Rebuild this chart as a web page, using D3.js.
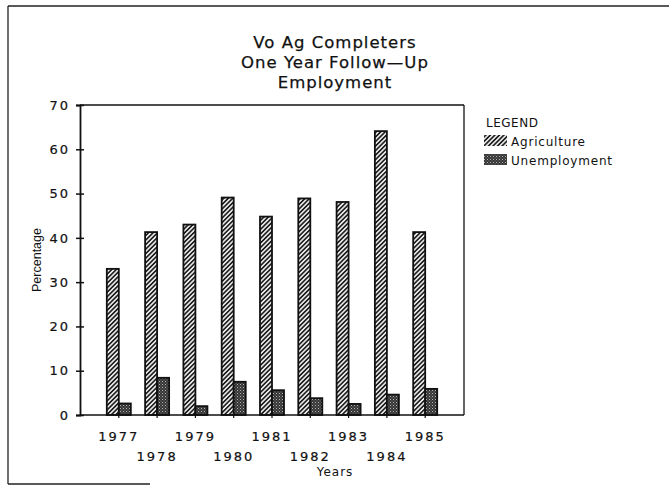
<!DOCTYPE html>
<html>
<head>
<meta charset="utf-8">
<script src="https://cdn.jsdelivr.net/npm/d3@7"></script>
<style>
  html, body { margin: 0; padding: 0; background: #fff; }
  svg { display: block; }
  text { fill: #111; }
</style>
</head>
<body>
<div id="chart"></div>
<script>
const titleLines = ["Vo Ag Completers", "One Year Follow\u2014Up", "Employment"];
const years = ["1977","1978","1979","1980","1981","1982","1983","1984","1985"];
const seriesNames = ["Agriculture", "Unemployment"];
const legendLabels = ["Agriculture", "Unemployment"];
const agriculture = [33, 41.3, 43, 49.1, 44.8, 48.9, 48.1, 64.1, 41.3];
const unemployment = [2.6, 8.4, 2.0, 7.5, 5.6, 3.8, 2.5, 4.6, 5.9];
const yTicks = [0, 10, 20, 30, 40, 50, 60, 70];
const yLabel = "Percentage";
const xLabel = "Years";
const legendTitle = "LEGEND";

const W = 669, H = 485;
const plot = { left: 80, right: 464, top: 105, bottom: 415 };

const svg = d3.select("#chart").append("svg").attr("width", W).attr("height", H);

// patterns
const defs = svg.append("defs");
const hatch = defs.append("pattern").attr("id", "hatch").attr("patternUnits", "userSpaceOnUse")
  .attr("width", 3.2).attr("height", 3.2).attr("patternTransform", "rotate(45)");
hatch.append("rect").attr("width", 3.2).attr("height", 3.2).attr("fill", "#e8e8e8");
hatch.append("rect").attr("width", 1.6).attr("height", 3.2).attr("fill", "#1e1e1e");

const stip = defs.append("pattern").attr("id", "stipple").attr("patternUnits", "userSpaceOnUse")
  .attr("width", 3).attr("height", 3);
stip.append("rect").attr("width", 3).attr("height", 3).attr("fill", "#353535");
stip.append("rect").attr("x", 0).attr("y", 0).attr("width", 1).attr("height", 1).attr("fill", "#b5b5b5");
stip.append("rect").attr("x", 1.5).attr("y", 1.5).attr("width", 1).attr("height", 1).attr("fill", "#808080");

const fills = { "Agriculture": "url(#hatch)", "Unemployment": "url(#stipple)" };

// outer frame (partial, as scanned)
svg.append("line").attr("x1", 8).attr("y1", 6).attr("x2", W).attr("y2", 6).attr("stroke", "#222").attr("stroke-width", 1.3);
svg.append("line").attr("x1", 8).attr("y1", 6).attr("x2", 8).attr("y2", 484).attr("stroke", "#222").attr("stroke-width", 1.3);
svg.append("line").attr("x1", 8).attr("y1", 484).attr("x2", 150).attr("y2", 484).attr("stroke", "#222").attr("stroke-width", 1.3);

// title
const titleFont = "'DejaVu Sans', sans-serif";
svg.append("g").selectAll("text").data(titleLines).join("text")
  .attr("x", 335).attr("y", (d, i) => 48 + i * 20)
  .attr("text-anchor", "middle")
  .style("font-family", titleFont).style("font-size", "16.5px").style("letter-spacing", "1px")
  .style("stroke", "#111").style("stroke-width", "0.25px")
  .text(d => d);

// scales
const x = d3.scaleBand().domain(years).range([plot.left, plot.right]).paddingInner(0.373).paddingOuter(0.70);
const xs = d3.scaleBand().domain(seriesNames).range([0, x.bandwidth()]);
const y = d3.scaleLinear().domain([0, 70]).range([plot.bottom, plot.top]);

// plot frame (top and right)
svg.append("line").attr("x1", plot.left).attr("x2", plot.right).attr("y1", plot.top).attr("y2", plot.top).attr("stroke", "#111").attr("stroke-width", 1.5);
svg.append("line").attr("x1", plot.right).attr("x2", plot.right).attr("y1", plot.top).attr("y2", plot.bottom).attr("stroke", "#111").attr("stroke-width", 1.3);

// bars
const rows = years.map((yr, i) => ({ year: yr, values: [
  { name: "Agriculture", v: agriculture[i] },
  { name: "Unemployment", v: unemployment[i] }
]}));
const gBars = svg.append("g");
rows.forEach(r => {
  gBars.selectAll(null).data(r.values).join("rect")
    .attr("x", d => x(r.year) + xs(d.name))
    .attr("y", d => y(d.v))
    .attr("width", xs.bandwidth())
    .attr("height", d => y(0) - y(d.v))
    .attr("fill", d => fills[d.name])
    .attr("stroke", "#111").attr("stroke-width", 1.8);
});

// y axis
const yAxis = d3.axisLeft(y).tickValues(yTicks).tickSize(4).tickPadding(8).tickFormat(d3.format("d"));
const gy = svg.append("g").attr("transform", `translate(${plot.left},0)`).call(yAxis);
gy.select(".domain").attr("stroke", "#111").attr("stroke-width", 1.8);
gy.selectAll(".tick line").attr("x2", 4).attr("x1", -4).attr("stroke", "#111").attr("stroke-width", 1.5);
gy.selectAll(".tick text").style("font-family", titleFont).style("font-size", "13px").style("letter-spacing", "2px")
  .style("stroke", "#111").style("stroke-width", "0.2px").attr("x", -10).attr("fill", "#111");

// x axis
const xAxis = d3.axisBottom(x).tickSize(3).tickPadding(0);
const gx = svg.append("g").attr("transform", `translate(0,${plot.bottom})`).call(xAxis);
gx.select(".domain").attr("d", `M${plot.left},0H${plot.right}`).attr("stroke", "#111").attr("stroke-width", 1.6);
gx.selectAll(".tick line").attr("stroke", "#111").attr("stroke-width", 1.2).attr("y1", -2).attr("y2", 3);
gx.selectAll(".tick text")
  .attr("y", (d, i) => i % 2 === 0 ? 26 : 46)
  .attr("dy", 0)
  .style("font-family", titleFont).style("font-size", "13px").style("letter-spacing", "2px")
  .style("stroke", "#111").style("stroke-width", "0.2px").attr("fill", "#111");

// axis labels
svg.append("text").attr("x", 335).attr("y", 476).attr("text-anchor", "middle")
  .style("font-family", titleFont).style("font-size", "12px").style("letter-spacing", "1px").text(xLabel);
svg.append("text").attr("transform", "translate(41,260) rotate(-90)").attr("text-anchor", "middle")
  .style("font-family", "'Liberation Sans', Arial, sans-serif").style("font-size", "12.5px").text(yLabel);

// legend
const lg = svg.append("g").attr("transform", "translate(484,0)");
lg.append("text").attr("x", 2).attr("y", 127).style("font-family", titleFont).style("font-size", "12px").style("letter-spacing", "0.5px").text(legendTitle);
lg.selectAll("rect").data(legendLabels).join("rect")
  .attr("x", 0).attr("y", (d, i) => 135 + i * 19).attr("width", 23).attr("height", 11)
  .attr("fill", d => fills[d]);
lg.selectAll("text.item").data(legendLabels).join("text").attr("class", "item")
  .attr("x", 27).attr("y", (d, i) => 146 + i * 19)
  .style("font-family", titleFont).style("font-size", "12px").style("letter-spacing", "0.8px")
  .text(d => d);
</script>
</body>
</html>
